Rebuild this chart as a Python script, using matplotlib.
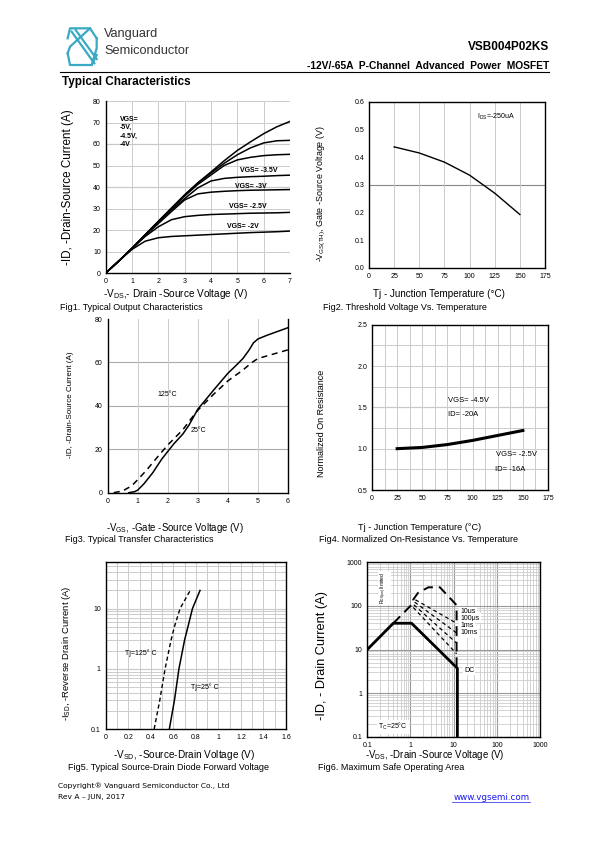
import matplotlib
matplotlib.use("Agg")
import matplotlib.pyplot as plt
import numpy as np

plt.rcParams["font.family"] = ["Liberation Sans", "DejaVu Sans"]

W, H = 595, 842

# ---- Fig1: output characteristics ----
vds = [0, 0.5, 1.0, 1.5, 2.0, 2.5, 3.0, 3.5, 4.0, 4.5, 5.0, 5.5, 6.0, 6.5, 7.0]
out_curves = {
    "-5V":   [0, 5.6, 11.5, 17.8, 24.0, 30.2, 36.4, 42.0, 47.0, 52.2, 57.0, 61.0, 64.8, 68.0, 70.5],
    "-4.5V": [0, 5.6, 11.5, 17.8, 24.0, 30.2, 36.2, 41.8, 46.5, 51.0, 55.0, 58.2, 60.5, 61.5, 61.7],
    "-4V":   [0, 5.6, 11.5, 17.8, 24.0, 30.0, 35.8, 41.2, 45.6, 50.0, 52.6, 53.8, 54.6, 55.0, 55.2],
    "-3.5V": [0, 5.6, 11.5, 17.6, 23.6, 29.4, 34.6, 39.6, 42.8, 44.0, 44.5, 44.8, 45.0, 45.3, 45.5],
    "-3V":   [0, 5.6, 11.5, 17.4, 23.0, 28.6, 34.0, 36.8, 37.6, 38.0, 38.3, 38.5, 38.6, 38.7, 38.8],
    "-2.5V": [0, 5.6, 11.4, 17.0, 21.5, 24.8, 26.2, 26.8, 27.2, 27.4, 27.6, 27.8, 27.9, 28.0, 28.2],
    "-2V":   [0, 5.6, 11.0, 14.8, 16.4, 17.0, 17.3, 17.6, 17.9, 18.2, 18.5, 18.8, 19.0, 19.2, 19.5],
}

# ---- Fig2: threshold voltage vs temperature ----
tj_vth = [25, 50, 75, 100, 125, 150]
vth = [0.437, 0.415, 0.382, 0.335, 0.270, 0.193]

# ---- Fig3: transfer characteristics ----
vgs_solid = [0.7, 0.9, 1.0, 1.2, 1.5, 1.8, 2.0, 2.2, 2.5, 2.7, 3.0, 3.3, 3.6, 4.0,
             4.3, 4.5, 4.7, 4.85, 5.0, 5.3, 5.6, 6.0]
id_solid = [0, 0.5, 1.2, 4.0, 9.2, 15.5, 19.0, 22.5, 27.0, 31.0, 38.5, 43.5, 48.5, 55.0,
            59.0, 61.8, 65.6, 69.0, 70.8, 72.5, 74.0, 76.0]
vgs_dash = [0.2, 0.5, 0.8, 1.0, 1.3, 1.6, 2.0, 2.5, 2.8, 3.0, 3.5, 4.0, 4.5, 4.8, 5.0, 5.5, 6.0]
id_dash = [0, 0.8, 3.2, 6.0, 10.5, 15.5, 22.0, 29.0, 34.5, 38.0, 45.0, 51.5, 56.5, 60.0,
           61.8, 63.8, 65.8]

# ---- Fig4: normalized on-resistance ----
tj_rds = [25, 50, 75, 100, 125, 150]
rds_norm = [1.0, 1.015, 1.05, 1.10, 1.16, 1.22]

# ---- Fig5: body diode forward voltage ----
isd = [0.1, 0.3, 1.0, 3.0, 5.0, 10.0, 20.0]
vsd_125 = [0.43, 0.48, 0.527, 0.58, 0.61, 0.66, 0.75]
vsd_25 = [0.565, 0.61, 0.65, 0.70, 0.73, 0.77, 0.837]

# ---- Fig6: safe operating area ----
soa_dc_v = [0.1, 0.4, 1.06, 12.2, 12.2]
soa_dc_i = [10, 40, 40, 3.7, 0.1]
soa_10us_v = [0.4, 1.0, 1.16, 1.16, 1.5, 2.6, 4.8, 11.7, 11.7]
soa_10us_i = [40, 100, 116, 140, 200, 267, 267, 104, 3.7]
soa_diag_v = [[1.16, 11.7], [1.2, 11.7], [1.25, 11.7], [1.3, 11.7]]
soa_diag_i = [[92, 8.0], [106, 14.0], [122, 24.0], [138, 40.0]]
soa_labels = ["10\u03bcs", "100\u03bcs", "1ms", "10ms"]
soa_label_i = [74, 52, 35, 24]


def px(x, y):
    return x / W, 1 - y / H


def place_axes(fig, left, top, right, bottom):
    l, t = px(left, top)
    r, b = px(right, bottom)
    return fig.add_axes([l, b, r - l, t - b])


def style(ax, box=True):
    for side in ["top", "right"]:
        ax.spines[side].set_visible(box)
    for s in ax.spines.values():
        s.set_linewidth(1.0)
    ax.tick_params(length=0, labelsize=5, pad=3.5)
    ax.set_axisbelow(True)


fig = plt.figure(figsize=(W / 100, H / 100), dpi=100)

# header
teal = "#3aa9c4"
logo = [
    [(38, 70), (45, 40), (105, 40), (125, 70)],
    [(38, 115), (45, 150), (110, 150), (125, 120)],
    [(50, 50), (118, 145)],
    [(62, 45), (125, 132)],
    [(105, 40), (45, 95), (38, 115)],
    [(110, 150), (125, 100), (125, 70)],
]
for path in logo:
    xs = [55 + p[0] / 3 for p in path]
    ys = [15 + p[1] / 3 for p in path]
    fig.add_artist(plt.Line2D([x / W for x in xs], [1 - y / H for y in ys],
                              color=teal, lw=1.6))
fig.text(*px(104, 34), "Vanguard", fontsize=9.2, color="#333333", va="center")
fig.text(*px(104, 51), "Semiconductor", fontsize=9.2, color="#333333", va="center")
fig.text(*px(549, 47), "VSB004P02KS", fontsize=8.5, fontweight="bold", ha="right", va="center")
fig.text(*px(549, 66), "-12V/-65A  P-Channel  Advanced  Power  MOSFET", fontsize=7.4,
         fontweight="bold", ha="right", va="center")
fig.add_artist(plt.Line2D([60 / W, 549 / W], [1 - 72 / H] * 2, color="black", lw=0.8))
fig.text(*px(62, 82), "Typical Characteristics", fontsize=8.5, fontweight="bold", va="center")

# Fig1
ax1 = place_axes(fig, 105.7, 101, 290, 273)
style(ax1, box=False)
for name, vals in out_curves.items():
    ax1.plot(vds, vals, color="black", lw=1.1)
ax1.set_xlim(0, 7)
ax1.set_ylim(0, 80)
ax1.set_xticks(range(0, 8))
ax1.set_yticks(range(0, 81, 10))
ax1.grid(color="#cccccc", lw=0.7)
for g in [40, 60]:
    ax1.axhline(g, color="#888888", lw=0.8, zorder=0.5)
ax1.text(0.55, 73, "VGS=\n-5V,\n-4.5V,\n-4V", fontsize=5, fontweight="bold", va="top",
         linespacing=1.25)
ax1.text(5.1, 47, "VGS= -3.5V", fontsize=5, fontweight="bold")
ax1.text(4.9, 39.5, "VGS= -3V", fontsize=5, fontweight="bold")
ax1.text(4.7, 30, "VGS= -2.5V", fontsize=5, fontweight="bold")
ax1.text(4.6, 21, "VGS= -2V", fontsize=5, fontweight="bold")
fig.text(*px(175, 294), r"-V$_{\mathregular{DS}}$,- Drain -Source Voltage (V)", fontsize=7.2,
         ha="center", va="center")
fig.text(*px(68, 187), "-ID, -Drain-Source Current (A)", fontsize=8.4, rotation=90,
         ha="center", va="center")

# Fig2
ax2 = place_axes(fig, 369, 101.7, 545, 268)
style(ax2)
ax2.plot(tj_vth, vth, color="black", lw=1.0)
ax2.set_xlim(0, 175)
ax2.set_ylim(0, 0.6)
ax2.set_xticks(range(0, 176, 25))
ax2.set_yticks(np.arange(0, 0.61, 0.1))
ax2.set_yticklabels([f"{v:.1f}" for v in np.arange(0, 0.61, 0.1)])
ax2.grid(axis="x", color="#cccccc", lw=0.7)
ax2.axhline(0.3, color="#888888", lw=0.8, zorder=0.5)
ax2.text(107, 0.54, r"I$_{\mathregular{DS}}$=-250uA", fontsize=5)
fig.text(*px(439, 294), "Tj - Junction Temperature (\u00b0C)", fontsize=7.1,
         ha="center", va="center")
fig.text(*px(321.7, 194), r"-V$_{\mathregular{GS(TH)}}$, Gate -Source Voltage (V)", fontsize=6.4,
         rotation=90, ha="center", va="center")

# Fig3
ax3 = place_axes(fig, 107.7, 319, 288, 492.7)
style(ax3, box=False)
ax3.spines["right"].set_visible(True)
ax3.plot(vgs_solid, id_solid, color="black", lw=1.1)
ax3.plot(vgs_dash, id_dash, color="black", lw=1.1, ls=(0, (4, 3)))
ax3.set_xlim(0, 6)
ax3.set_ylim(0, 80)
ax3.set_xticks(range(0, 7))
ax3.set_yticks(range(0, 81, 20))
ax3.grid(axis="x", color="#cccccc", lw=0.7)
for g in [20, 40, 60]:
    ax3.axhline(g, color="#aaaaaa", lw=0.8, zorder=0.5)
ax3.text(1.97, 45, "125\u00b0C", fontsize=5, ha="center", va="center")
ax3.text(3.02, 28.5, "25\u00b0C", fontsize=5, ha="center", va="center")
fig.text(*px(175, 528), r"-V$_{\mathregular{GS}}$, -Gate -Source Voltage (V)", fontsize=6.9,
         ha="center", va="center")
fig.text(*px(70, 405), "-ID, -Drain-Source Current (A)", fontsize=5.8, rotation=90,
         ha="center", va="center")

# Fig4
ax4 = place_axes(fig, 372, 324.7, 548, 490)
style(ax4)
ax4.plot(tj_rds, rds_norm, color="black", lw=2.2)
ax4.set_xlim(0, 175)
ax4.set_ylim(0.5, 2.5)
ax4.set_xticks(range(0, 176, 25))
ax4.set_xticks(np.arange(12.5, 175, 25), minor=True)
ax4.set_yticks(np.arange(0.5, 2.51, 0.5))
ax4.set_yticklabels([f"{v:.1f}" for v in np.arange(0.5, 2.51, 0.5)])
ax4.set_yticks(np.arange(0.75, 2.5, 0.5), minor=True)
ax4.tick_params(which="minor", length=0)
ax4.grid(which="both", color="#cccccc", lw=0.7)
ax4.axhline(1.5, color="#888888", lw=0.8, zorder=0.5)
ax4.text(75.6, 1.57, "VGS= -4.5V", fontsize=5.5)
ax4.text(75.6, 1.395, "ID= -20A", fontsize=5.5)
ax4.text(123, 0.915, "VGS= -2.5V", fontsize=5.5)
ax4.text(122, 0.73, "ID= -16A", fontsize=5.5)
fig.text(*px(420, 528), "Tj - Junction Temperature (\u00b0C)", fontsize=6.6,
         ha="center", va="center")
fig.text(*px(321.7, 423), "Normalized On Resistance", fontsize=6.5, rotation=90,
         ha="center", va="center")

# Fig5
ax5 = place_axes(fig, 105.7, 561.7, 286, 729)
style(ax5)
ax5.plot(vsd_125, isd, color="black", lw=1.0, ls=(0, (3, 2)))
ax5.plot(vsd_25, isd, color="black", lw=1.1)
ax5.set_yscale("log")
ax5.set_xlim(0, 1.6)
ax5.set_ylim(0.1, 60)
ax5.set_xticks(np.arange(0, 1.61, 0.2))
ax5.set_xticklabels(["0", "0.2", "0.4", "0.6", "0.8", "1", "1.2", "1.4", "1.6"])
ax5.set_xticks(np.arange(0.1, 1.6, 0.2), minor=True)
ax5.set_yticks([0.1, 1, 10])
ax5.set_yticklabels(["0.1", "1", "10"])
ax5.tick_params(which="minor", length=0, labelleft=False)
ax5.grid(which="both", color="#cccccc", lw=0.7)
for g in [1, 10]:
    ax5.axhline(g, color="#999999", lw=0.8, zorder=0.5)
ax5.text(0.17, 1.82, "Tj=125\u00b0 C", fontsize=5, va="center")
ax5.text(0.756, 0.49, "Tj=25\u00b0 C", fontsize=5, va="center")
fig.text(*px(184, 755), r"-V$_{\mathregular{SD}}$, -Source-Drain Voltage (V)", fontsize=7.2,
         ha="center", va="center")
fig.text(*px(66.7, 653), r"-I$_{\mathregular{SD}}$, -Reverse Drain Current (A)", fontsize=6.8,
         rotation=90, ha="center", va="center")

# Fig6
ax6 = place_axes(fig, 367.3, 562.3, 540, 736.7)
style(ax6)
ax6.set_xscale("log")
ax6.set_yscale("log")
ax6.plot(soa_dc_v, soa_dc_i, color="black", lw=2.0)
ax6.plot(soa_10us_v, soa_10us_i, color="black", lw=1.4, ls=(0, (5, 3)))
for dv, di in zip(soa_diag_v, soa_diag_i):
    ax6.plot(dv, di, color="black", lw=0.9, ls=(0, (3, 2.5)))
ax6.set_xlim(0.1, 1000)
ax6.set_ylim(0.1, 1000)
ax6.set_xticks([0.1, 1, 10, 100, 1000])
ax6.set_xticklabels(["0.1", "1", "10", "100", "1000"])
ax6.set_yticks([0.1, 1, 10, 100, 1000])
ax6.set_yticklabels(["0.1", "1", "10", "100", "1000"])
ax6.tick_params(which="minor", length=0, labelleft=False, labelbottom=False)
ax6.grid(which="both", color="#cccccc", lw=0.6)
ax6.grid(which="major", color="#999999", lw=0.8)
bbox = dict(facecolor="white", edgecolor="none", pad=1)
for lab, yv in zip(soa_labels, soa_label_i):
    ax6.text(14.5, yv, lab, fontsize=5, va="center", bbox=bbox)
ax6.text(17.3, 3.3, "DC", fontsize=5, va="center", bbox=bbox)
ax6.text(0.18, 0.17, "T$_{\\mathregular{C}}$=25\u00b0C", fontsize=5, va="center", bbox=bbox)
ax6.text(0.244, 258, r"R$_{\mathregular{DS(on)}}$ limited", fontsize=3.5, rotation=90,
         ha="center", va="center", bbox=bbox)
fig.text(*px(435, 755), r"-V$_{\mathregular{DS}}$, -Drain -Source Voltage (V)", fontsize=6.9,
         ha="center", va="center")
fig.text(*px(321.7, 655), "-ID, - Drain Current (A)", fontsize=9.2, rotation=90,
         ha="center", va="center")

# captions
captions = [
    (60, 308, "Fig1. Typical Output Characteristics"),
    (323, 308, "Fig2. Threshold Voltage Vs. Temperature"),
    (65, 540, "Fig3. Typical Transfer Characteristics"),
    (319, 540, "Fig4. Normalized On-Resistance Vs. Temperature"),
    (68, 768, "Fig5. Typical Source-Drain Diode Forward Voltage"),
    (318, 768, "Fig6. Maximum Safe Operating Area"),
]
for x, y, s in captions:
    fig.text(*px(x, y), s, fontsize=6.5, va="center")

# footer
fig.text(*px(58, 786), "Copyright\u00ae Vanguard Semiconductor Co., Ltd", fontsize=5.4,
         family="DejaVu Sans", va="center")
fig.text(*px(58, 797), "Rev A \u2013 JUN, 2017", fontsize=5.4, family="DejaVu Sans", va="center")
fig.text(*px(530, 797), "www.vgsemi.com", fontsize=6.3, family="DejaVu Sans", color="#1a1aee",
         ha="right", va="center")
fig.add_artist(plt.Line2D([452 / W, 530 / W], [1 - 802 / H] * 2, color="#1a1aee", lw=0.5))

fig.savefig("out.png", dpi=100)
plt.close(fig)
